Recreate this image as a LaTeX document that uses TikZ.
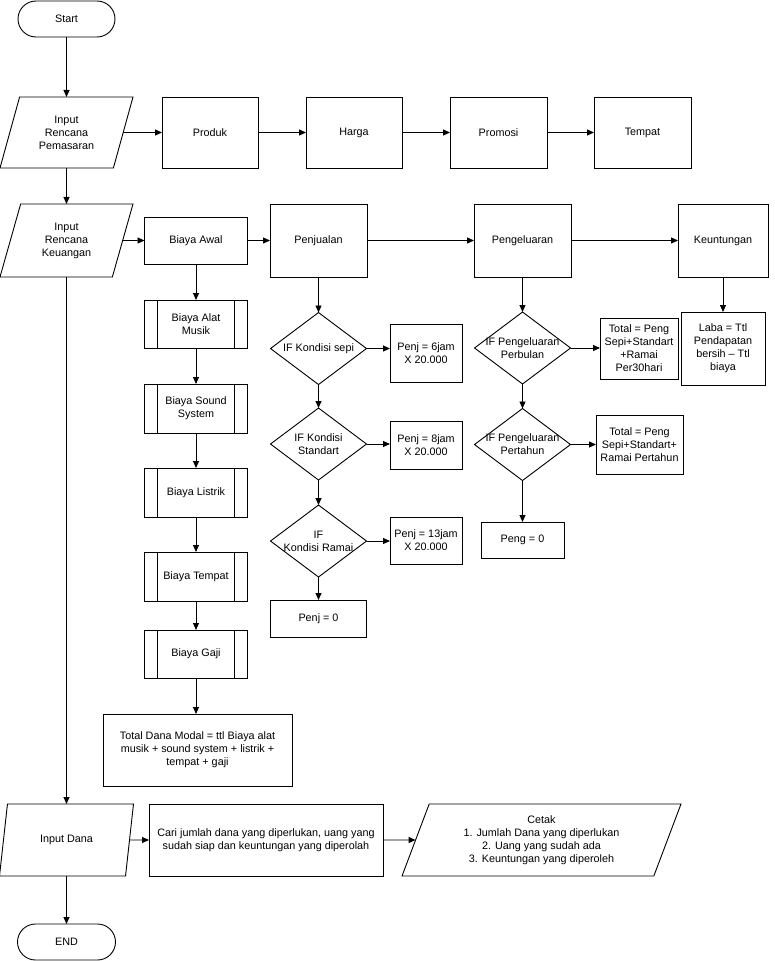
\documentclass[tikz,border=0pt]{standalone}
\usepackage{fontspec}
\setmainfont{Liberation Sans}
\usetikzlibrary{shapes.geometric,arrows.meta}

\begin{document}
\begin{tikzpicture}[x=1pt, y=-1pt, line width=0.9pt,
    every node/.style={font=\fontsize{10.8}{13}\selectfont, align=center, outer sep=0pt},
    box/.style 2 args={draw, rectangle, minimum width=#1pt, minimum height=#2pt},
    terminal/.style 2 args={box={#1}{#2}, rounded corners=18pt},
    io/.style 2 args={draw, trapezium, trapezium left angle=64, trapezium right angle=116,
        trapezium stretches body, minimum width=#1pt, minimum height=#2pt},
    subproc/.style 2 args={box={#1}{#2}, path picture={
        \draw ([xshift=13pt]path picture bounding box.north west) -- ([xshift=13pt]path picture bounding box.south west);
        \draw ([xshift=-13pt]path picture bounding box.north east) -- ([xshift=-13pt]path picture bounding box.south east);}},
    decision/.style={draw, diamond, inner sep=0pt, minimum width=96pt, minimum height=72pt},
    arr/.style={-{Triangle[length=7pt,width=6pt]}}]

    \useasboundingbox (0,0) rectangle (775,961);

    % Marketing row
    \node[terminal={97}{36}] (start) at (66.5,19) {Start};
    \node[io={133}{71}] (inpem) at (66.5,132.5) {Input\\Rencana\\Pemasaran};
    \node[box={96}{71}] (produk) at (210,132.5) {Produk};
    \node[box={96}{71}] (harga) at (354,132.5) {Harga};
    \node[box={97}{71}] (promosi) at (498.5,132.5) {Promosi};
    \node[box={97}{71}] (tempat) at (642.5,132.5) {Tempat};

    % Finance row
    \node[io={133}{73}] (inkeu) at (66.5,240.5) {Input\\Rencana\\Keuangan};
    \node[box={103}{47}] (awal) at (196,240.5) {Biaya Awal};
    \node[box={97}{73}] (penjualan) at (318.5,240.5) {Penjualan};
    \node[box={97}{73}] (pengeluaran) at (522.5,240.5) {Pengeluaran};
    \node[box={90}{73}] (keuntungan) at (723,240.5) {Keuntungan};
    \node[box={84}{73}] (laba) at (723,348.5) {Laba = Ttl\\Pendapatan\\bersih -- Ttl\\biaya};

    % Starting costs
    \node[subproc={103}{48}] (alat) at (196,324) {Biaya Alat\\Musik};
    \node[subproc={103}{49}] (sound) at (196,408.5) {Biaya Sound\\System};
    \node[subproc={103}{49}] (listrik) at (196,492.5) {Biaya Listrik};
    \node[subproc={103}{49}] (tmpbiaya) at (196,576.5) {Biaya Tempat};
    \node[subproc={103}{48}] (gaji) at (196,654) {Biaya Gaji};
    \node[box={189}{72}] (modal) at (197.5,750) {Total Dana Modal = ttl Biaya alat\\musik + sound system + listrik +\\tempat + gaji};

    % Sales
    \node[decision, label={center:{IF Kondisi sepi}}] (sepi) at (318.5,348.5) {};
    \node[decision, label={center:{IF Kondisi\\Standart}}] (standart) at (318.5,444) {};
    \node[decision, label={center:{IF\\Kondisi Ramai}}] (ramai) at (318.5,541) {};
    \node[box={72}{58}] (p6) at (426,353) {Penj = 6jam\\X 20.000};
    \node[box={72}{48}] (p8) at (426,445) {Penj = 8jam\\X 20.000};
    \node[box={72}{47}] (p13) at (426,540.5) {Penj = 13jam\\X 20.000};
    \node[box={96}{37}] (penj0) at (318.5,618.5) {Penj = 0};

    % Expenses
    \node[decision, label={center:{IF Pengeluaran\\Perbulan}}] (perbulan) at (522.5,348) {};
    \node[decision, label={center:{IF Pengeluaran\\Pertahun}}] (pertahun) at (522.5,444.5) {};
    \node[box={78}{61}] (tot1) at (639,348.5) {Total = Peng\\Sepi+Standart\\+Ramai\\Per30hari};
    \node[box={87}{59}] (tot2) at (639.5,444.5) {Total = Peng\\Sepi+Standart+\\Ramai Pertahun};
    \node[box={83}{36}] (peng0) at (522.5,540) {Peng = 0};

    % Fund row
    \node[io={134}{72}] (indana) at (66.5,840) {Input Dana};
    \node[box={234}{72}] (cari) at (266,840) {Cari jumlah dana yang diperlukan, uang yang\\sudah siap dan keuntungan yang diperolah};
    \node[io={279}{72}] (cetak) at (541.5,840) {Cetak\\1. Jumlah Dana yang diperlukan\\2. Uang yang sudah ada\\3. Keuntungan yang diperoleh};
    \node[terminal={98}{36}] (end) at (66.5,942) {END};

    % Arrows
    \draw[arr] (start) -- (inpem);
    \draw[arr] (inpem) -- (produk);
    \draw[arr] (produk) -- (harga);
    \draw[arr] (harga) -- (promosi);
    \draw[arr] (promosi) -- (tempat);
    \draw[arr] (inpem) -- (inkeu);
    \draw[arr] (inkeu) -- (awal);
    \draw[arr] (awal) -- (penjualan);
    \draw[arr] (penjualan) -- (pengeluaran);
    \draw[arr] (pengeluaran) -- (keuntungan);
    \draw[arr] (keuntungan) -- (laba);

    \draw[arr] (awal) -- (alat);
    \draw[arr] (alat) -- (sound);
    \draw[arr] (sound) -- (listrik);
    \draw[arr] (listrik) -- (tmpbiaya);
    \draw[arr] (tmpbiaya) -- (gaji);
    \draw[arr] (gaji.south) -- (gaji.south |- modal.north);

    \draw[arr] (penjualan) -- (sepi);
    \draw[arr] (sepi) -- (standart);
    \draw[arr] (standart) -- (ramai);
    \draw[arr] (ramai) -- (penj0);
    \draw[arr] (sepi.east) -- (sepi.east -| p6.west);
    \draw[arr] (standart.east) -- (standart.east -| p8.west);
    \draw[arr] (ramai.east) -- (ramai.east -| p13.west);

    \draw[arr] (pengeluaran) -- (perbulan);
    \draw[arr] (perbulan) -- (pertahun);
    \draw[arr] (pertahun) -- (peng0);
    \draw[arr] (perbulan.east) -- (perbulan.east -| tot1.west);
    \draw[arr] (pertahun.east) -- (pertahun.east -| tot2.west);

    \draw[arr] (inkeu) -- (indana);
    \draw[arr] (indana) -- (end);
    \draw[arr] (indana) -- (cari);
    \draw[arr] (cari) -- (cetak);
\end{tikzpicture}
\end{document}
